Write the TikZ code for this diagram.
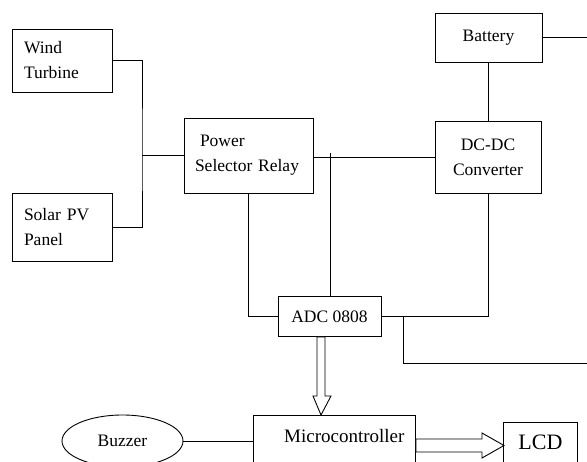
\documentclass[tikz,border=0pt]{standalone}
\usepackage{fontspec}
\setmainfont{Liberation Serif}
\usetikzlibrary{calc,shapes.geometric}

\begin{document}
\begin{tikzpicture}[
  x=1pt, y=-1pt,
  box/.style={draw, line width=0.9pt, inner sep=0pt, font=\fontsize{17.5}{25}\selectfont},
  wire/.style={line width=0.9pt},
  hollow/.style={draw, line width=0.9pt, fill=white}
]
  \useasboundingbox (0,0) rectangle (587,462);
  \clip (0,0) rectangle (587,462);

  % sources and relay
  \node[box, minimum width=100pt, minimum height=63pt, text width=76pt, align=left] (wind) at (62,60.5) {Wind\\Turbine};
  \node[box, minimum width=100pt, minimum height=68pt, text width=76pt, align=left] (solar) at (62,227) {Solar PV\\Panel};
  \node[box, minimum width=129pt, minimum height=75pt, text width=107pt, align=left] (power) at (248.5,155.5) {\hspace{5pt}Power\\Selector Relay};

  % storage side
  \node[box, minimum width=107pt, minimum height=49pt] (battery) at (488.5,37.5) {Battery};
  \node[box, minimum width=106pt, minimum height=72pt, align=center] (dcdc) at (488,157) {DC-DC\\Converter};
  \node[box, minimum width=103pt, minimum height=40pt] (adc) at (329.5,316.5) {ADC 0808};

  % control and outputs
  \node[box, minimum width=162pt, anchor=north west, text width=140pt, align=right, text height=27pt, text depth=40pt, font=\fontsize{19}{23}\selectfont] (micro) at (253,415) {Microcontroller};
  \node[box, minimum width=74pt, anchor=north west, text height=27pt, text depth=40pt, font=\fontsize{22}{26}\selectfont] (lcd) at (503,422) {LCD};
  \node[box, ellipse, minimum width=121pt, minimum height=52pt] (buzzer) at (122.5,441) {Buzzer};

  \coordinate (join) at (142,155.5);
  \draw[wire] (wind.east) -| (join) |- (solar.east);
  \draw[wire] (join) -- (power.west);
  \draw[wire] (dcdc.west -| power.east) -- (dcdc.west);
  \coordinate (tap) at (330,153);
  \draw[wire] (tap) -- (tap |- adc.north);
  \draw[wire] (power.south) |- (adc.west);
  \draw[wire] (battery.south) -- (battery.south |- dcdc.north);
  \draw[wire] (dcdc.south) |- (adc.east);
  \coordinate (batout) at (587,37.5);
  \draw[wire] (battery.east) -- (batout);
  \coordinate (adcout) at (587,363.5);
  \draw[wire] ($(adc.east)+(22,0)$) |- (adcout);
  \draw[wire] (buzzer.east) -- (buzzer.east -| micro.west);

  % bus arrows
  \draw[hollow] ($(adc.south)+(-12.5,0)$) -- ($(adc.south)+(-4.5,0)$)
    -- ($(adc.south |- micro.north)+(-4.5,-19)$) -- ($(adc.south |- micro.north)+(1.5,-19)$)
    -- ($(adc.south |- micro.north)+(-8.5,0)$)
    -- ($(adc.south |- micro.north)+(-16.5,-19)$) -- ($(adc.south |- micro.north)+(-12.5,-19)$) -- cycle;
  \draw[hollow] ($(micro.north east)+(0,24)$) -- ($(micro.north east -| lcd.west)+(-21,24)$)
    -- ($(micro.north east -| lcd.west)+(-21,18)$) -- ($(micro.north east -| lcd.west)+(1,30.5)$)
    -- ($(micro.north east -| lcd.west)+(-21,43)$) -- ($(micro.north east -| lcd.west)+(-21,37)$)
    -- ($(micro.north east)+(0,37)$) -- cycle;
\end{tikzpicture}
\end{document}
